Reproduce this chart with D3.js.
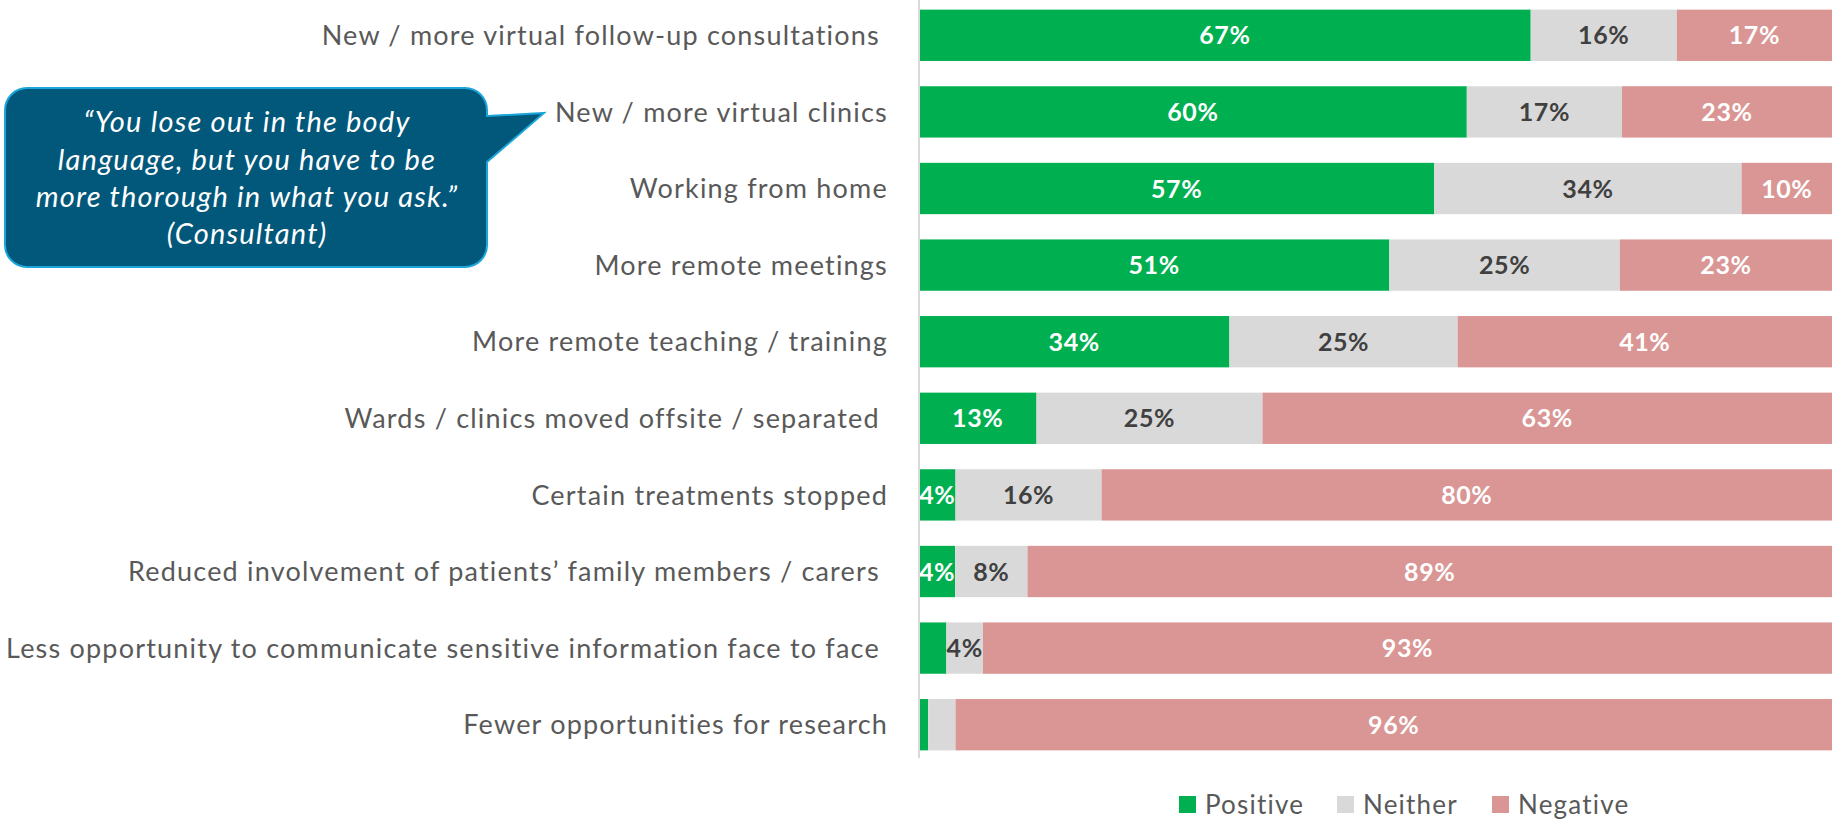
<!DOCTYPE html>
<html>
<head>
<meta charset="utf-8">
<script src="https://cdn.jsdelivr.net/npm/d3@7"></script>
<style>
  body { margin: 0; background: #fff; }
  svg text { font-family: Lato, "Open Sans", sans-serif; white-space: pre; }
</style>
</head>
<body>
<div id="chart"></div>
<script>
// data (percent of respondents)
var categories = [
  'New / more virtual follow-up consultations ',
  'New / more virtual clinics',
  'Working from home',
  'More remote meetings',
  'More remote teaching / training',
  'Wards / clinics moved offsite / separated ',
  'Certain treatments stopped',
  'Reduced involvement of patients\u2019 family members / carers ',
  'Less opportunity to communicate sensitive information face to face ',
  'Fewer opportunities for research'
];
var positive = [67, 60, 57, 51, 34, 13, 4, 4, 3, 1];
var neither  = [16, 17, 34, 25, 25, 25, 16, 8, 4, 3];
var negative = [17, 23, 10, 23, 41, 63, 80, 89, 93, 96];
var seriesNames = ['Positive', 'Neither', 'Negative'];
var quoteLines = [
  '\u201cYou lose out in the body',
  'language, but you have to be',
  'more thorough in what you ask.\u201d',
  '(Consultant)'
];

var width = 1835;
var height = 822;
var colors = { Positive: '#00B050', Neither: '#D9D9D9', Negative: '#DA9694' };
var labelColors = { Positive: '#ffffff', Neither: '#404040', Negative: '#ffffff' };

var rows = categories.map(function (c, i) {
  return { category: c, Positive: positive[i], Neither: neither[i], Negative: negative[i] };
});

// 100% stacked bars
var stack = d3.stack().keys(seriesNames).offset(d3.stackOffsetExpand);
var series = stack(rows);

var x = d3.scaleLinear().domain([0, 1]).range([919, 1832]);
var y = d3.scaleBand()
  .domain(categories)
  .range([-3, 763])
  .paddingInner(0.33)
  .paddingOuter(0.165);

var svg = d3.select('#chart').append('svg')
  .attr('width', width)
  .attr('height', height);

// bars
var groups = svg.selectAll('g.series')
  .data(series)
  .enter().append('g')
  .attr('class', 'series')
  .attr('fill', function (d) { return colors[d.key]; });

groups.selectAll('rect')
  .data(function (d) { return d; })
  .enter().append('rect')
  .attr('x', function (d) { return x(d[0]); })
  .attr('y', function (d) { return y(d.data.category); })
  .attr('width', function (d) { return x(d[1]) - x(d[0]); })
  .attr('height', y.bandwidth());

// value labels (small segments are left unlabelled)
groups.each(function (s) {
  d3.select(this).selectAll('text')
    .data(s.filter(function (d) { return d.data[s.key] >= 4; }))
    .enter().append('text')
    .attr('x', function (d) { return (x(d[0]) + x(d[1])) / 2; })
    .attr('y', function (d) { return y(d.data.category) + y.bandwidth() / 2; })
    .attr('dy', '0.36em')
    .style('text-anchor', 'middle')
    .style('font-weight', 'bold')
    .style('font-size', '25px')
    .style('letter-spacing', '0.6px')
    .style('fill', labelColors[s.key])
    .text(function (d) { return d.data[s.key] + '%'; });
});

// vertical axis line
svg.append('line')
  .attr('x1', x(0)).attr('x2', x(0))
  .attr('y1', 0).attr('y2', 758)
  .style('stroke', '#D9D9D9')
  .style('stroke-width', 2);

// category labels
svg.append('g')
  .selectAll('text')
  .data(categories)
  .enter().append('text')
  .attr('x', 888)
  .attr('y', function (d) { return y(d) + y.bandwidth() / 2; })
  .attr('dy', '0.36em')
  .style('text-anchor', 'end')
  .style('font-size', '27px')
  .style('letter-spacing', '1.2px')
  .style('fill', '#595959')
  .text(function (d) { return d; });

// legend
var legend = svg.append('g')
  .selectAll('g')
  .data(seriesNames)
  .enter().append('g')
  .attr('transform', function (d, i) { return 'translate(' + [1179, 1337, 1492][i] + ',796)'; });

legend.append('rect')
  .attr('width', 17)
  .attr('height', 17)
  .attr('fill', function (d) { return colors[d]; });

legend.append('text')
  .attr('x', 26)
  .attr('y', 9)
  .attr('dy', '0.36em')
  .style('font-size', '26px')
  .style('letter-spacing', '1.2px')
  .style('fill', '#595959')
  .text(function (d) { return d; });

// quote callout
var bx0 = 5, by0 = 88, bx1 = 487, by1 = 267, r = 22;
var p = d3.path();
p.moveTo(bx0 + r, by0);
p.lineTo(bx1 - r, by0);
p.arcTo(bx1, by0, bx1, by0 + r, r);
p.lineTo(bx1, 116);
p.lineTo(544, 113);
p.lineTo(bx1, 162);
p.lineTo(bx1, by1 - r);
p.arcTo(bx1, by1, bx1 - r, by1, r);
p.lineTo(bx0 + r, by1);
p.arcTo(bx0, by1, bx0, by1 - r, r);
p.lineTo(bx0, by0 + r);
p.arcTo(bx0, by0, bx0 + r, by0, r);
p.closePath();

svg.append('path')
  .attr('d', p.toString())
  .style('fill', '#02587A')
  .style('stroke', '#1BA6DB')
  .style('stroke-width', 2);

svg.append('g')
  .selectAll('text')
  .data(quoteLines)
  .enter().append('text')
  .attr('x', 247)
  .attr('y', function (d, i) { return 122 + i * 37.3; })
  .attr('dy', '0.36em')
  .style('text-anchor', 'middle')
  .style('font-style', 'italic')
  .style('font-size', '29px')
  .style('letter-spacing', '1.2px')
  .style('fill', '#ffffff')
  .text(function (d) { return d; });
</script>
</body>
</html>
